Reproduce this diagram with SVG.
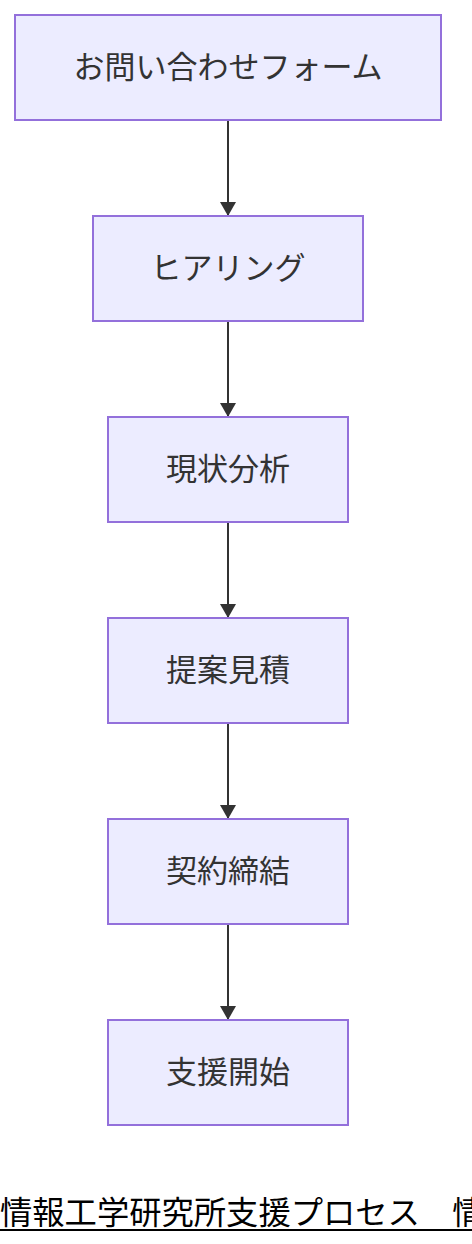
<svg xmlns="http://www.w3.org/2000/svg" width="472" height="1244" viewBox="0 0 472 1244">
<style>
.n rect{fill:#ECECFF;stroke:#9370DB;stroke-width:2}
.n text{font-family:"Noto Sans CJK JP","Noto Sans",sans-serif;font-size:31px;fill:#333;text-anchor:middle;dominant-baseline:central}
.e line{stroke:#333;stroke-width:2}
.t{font-family:"Noto Sans CJK JP",sans-serif;font-size:32.3px;fill:#000}
</style>
<defs>
<marker id="ah" viewBox="0 0 14 16" refX="14" refY="8" markerWidth="14" markerHeight="16" markerUnits="userSpaceOnUse" orient="auto">
<path d="M0,0L14,8L0,16z" fill="#333"/>
</marker>
</defs>
<rect width="472" height="1244" fill="#fff"/>
<g class="e">
<line x1="228" y1="120" x2="228" y2="216" marker-end="url(#ah)"/>
<line x1="228" y1="321" x2="228" y2="417" marker-end="url(#ah)"/>
<line x1="228" y1="522" x2="228" y2="618" marker-end="url(#ah)"/>
<line x1="228" y1="723" x2="228" y2="819" marker-end="url(#ah)"/>
<line x1="228" y1="924" x2="228" y2="1020" marker-end="url(#ah)"/>
</g>
<g id="n1" class="n"><rect x="15" y="15" width="426" height="105"/><text x="228" y="64">お問い合わせフォーム</text></g>
<g id="n2" class="n"><rect x="93" y="216" width="270" height="105"/><text x="228" y="265">ヒアリング</text></g>
<g id="n3" class="n"><rect x="108" y="417" width="240" height="105"/><text x="228" y="466">現状分析</text></g>
<g id="n4" class="n"><rect x="108" y="618" width="240" height="105"/><text x="228" y="667">提案見積</text></g>
<g id="n5" class="n"><rect x="108" y="819" width="240" height="105"/><text x="228" y="868">契約締結</text></g>
<g id="n6" class="n"><rect x="108" y="1020" width="240" height="105"/><text x="228" y="1069">支援開始</text></g>
<g id="title">
<text class="t" x="0" y="1224">情報工学研究所支援プロセス　情報工学研究所</text>
<line x1="0" y1="1230" x2="472" y2="1230" stroke="#000" stroke-width="2"/>
</g>
</svg>
